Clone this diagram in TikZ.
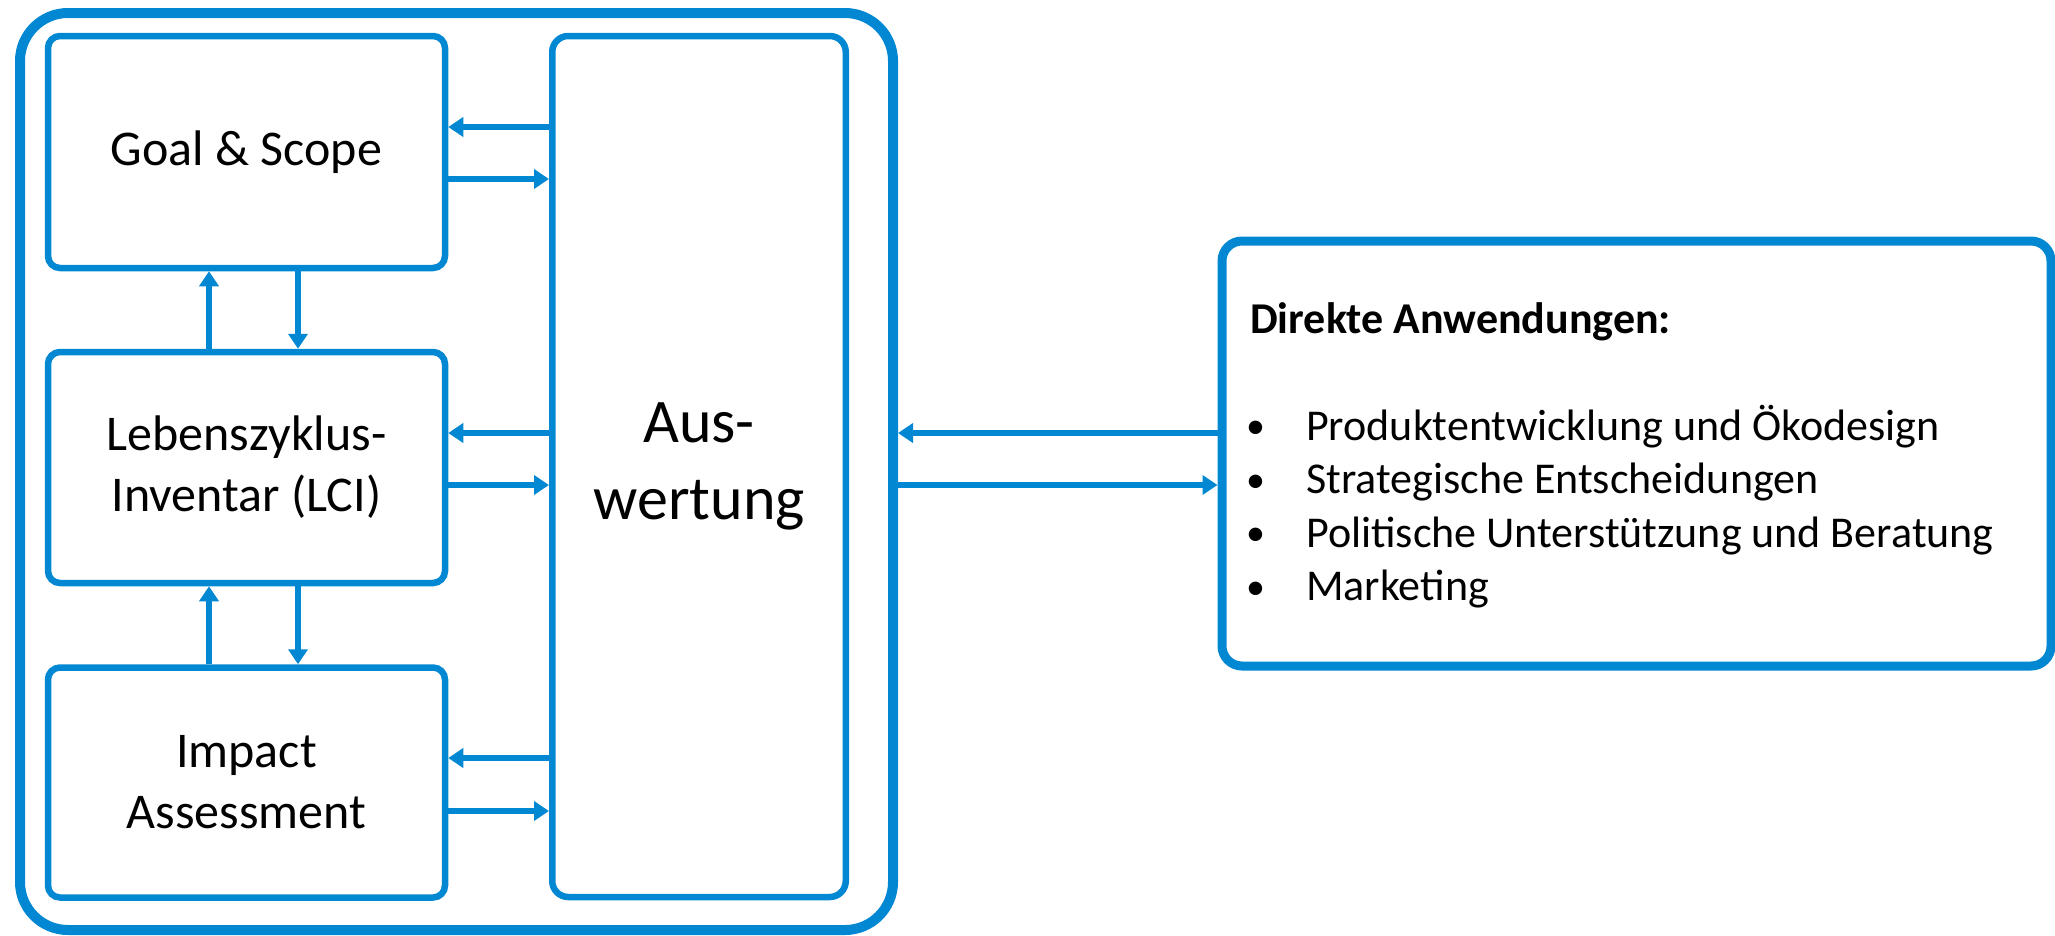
\documentclass[tikz,border=0pt]{standalone}
\usepackage{fontspec}
\setmainfont{Carlito}
\usetikzlibrary{arrows.meta}
\definecolor{lcablue}{RGB}{2,136,210}

\newcommand{\itemdot}{\makebox[56pt][l]{\kern-4pt\raisebox{1.5pt}{\fontsize{38}{38}\selectfont •}}}

\tikzset{
  phase/.style={draw=lcablue, line width=6.5pt, rounded corners=12pt,
    inner sep=0pt, align=center, font=\fontsize{50}{61}\selectfont},
  flow/.style={draw=lcablue, line width=6pt,
    -{Triangle[length=15pt,width=19pt]}},
  itemtext/.style={anchor=base west, inner sep=0pt, font=\fontsize{44}{53.7}\selectfont},
}

\begin{document}
\begin{tikzpicture}[x=1pt,y=-1pt]
\useasboundingbox (0,0) rectangle (2055,935);

% framework of the life cycle assessment
\node[draw=lcablue, line width=10pt, rounded corners=48pt,
      minimum width=873pt, minimum height=917pt, inner sep=0pt]
      (frame) at (456.5,471.5) {};

% the three phases on the left
\node[phase, minimum width=397pt, minimum height=232pt] (goal) at (246.5,152) {Goal \& Scope};
\node[phase, minimum width=397pt, minimum height=231pt] (lci) at (246.5,467.5)
  {Lebenszyklus-\\Inventar (LCI)};
\node[phase, minimum width=397pt, minimum height=230pt] (lcia) at (246.5,782.5)
  {Impact\\Assessment};

% interpretation column
\node[phase, rounded corners=16pt, minimum width=293.5pt, minimum height=861pt,
      font=\fontsize{62}{77}\selectfont] (aus) at (699,466.5) {Aus-\\wertung};

% applications box
\node[draw=lcablue, line width=9pt, rounded corners=20pt,
      minimum width=829pt, minimum height=425pt, inner sep=0pt]
      (apps) at (1636.5,453.5) {};

\node[itemtext, font=\fontsize{44}{53.7}\selectfont\bfseries] (head) at (1250,333) {Direkte Anwendungen:};
\node[itemtext] (i1) at (1250,440) {\itemdot Produktentwicklung und Ökodesign};
\node[itemtext] (i2) at (1250,493.5) {\itemdot Strategische Entscheidungen};
\node[itemtext] (i3) at (1250,547) {\itemdot Politische Unterstützung und Beratung};
\node[itemtext] (i4) at (1250,600.5) {\itemdot Marketing};

% levels of the horizontal connectors
\coordinate (ga) at (0,127);
\coordinate (gb) at (0,179);
\coordinate (la) at (0,433);
\coordinate (lb) at (0,485);
\coordinate (ia) at (0,758);
\coordinate (ib) at (0,811);
% columns of the vertical connectors
\coordinate (up) at (209,0);
\coordinate (down) at (298,0);

% phases <-> interpretation
\draw[flow] (aus.west |- ga) -- (goal.east |- ga);
\draw[flow] (goal.east |- gb) -- (aus.west |- gb);
\draw[flow] (aus.west |- la) -- (lci.east |- la);
\draw[flow] (lci.east |- lb) -- (aus.west |- lb);
\draw[flow] (aus.west |- ia) -- (lcia.east |- ia);
\draw[flow] (lcia.east |- ib) -- (aus.west |- ib);

% phases among themselves
\draw[flow] (lci.north -| up) -- (goal.south -| up);
\draw[flow] (goal.south -| down) -- (lci.north -| down);
\draw[flow] (lcia.north -| up) -- (lci.south -| up);
\draw[flow] (lci.south -| down) -- (lcia.north -| down);

% framework <-> applications
\draw[flow] (apps.west |- la) -- (frame.east |- la);
\draw[flow] (frame.east |- lb) -- (apps.west |- lb);
\end{tikzpicture}
\end{document}
